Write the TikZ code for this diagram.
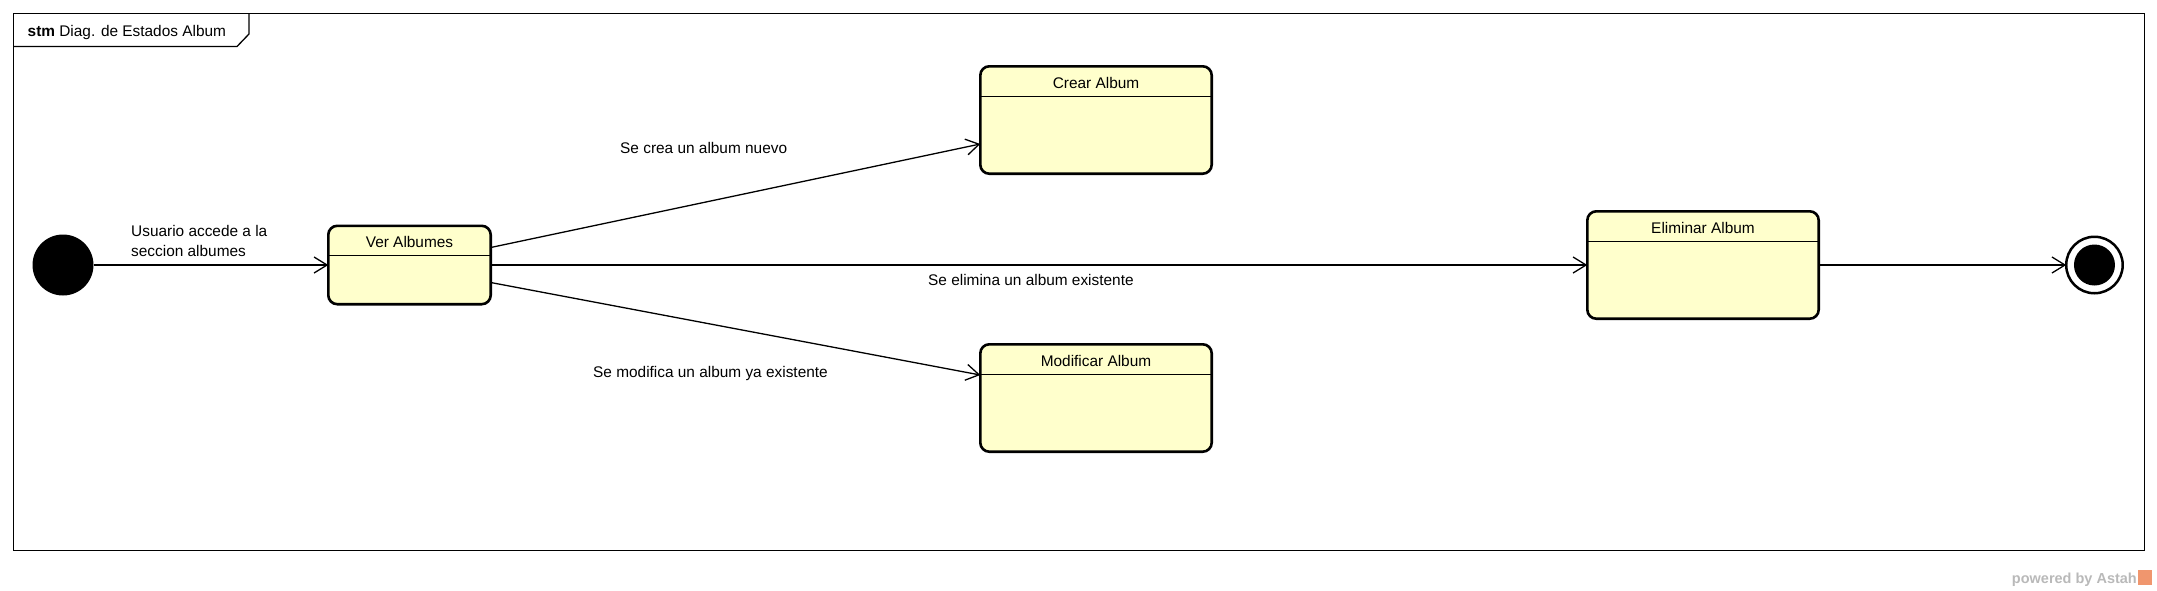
\documentclass[tikz,border=0pt]{standalone}
\usepackage{fontspec}
\setmainfont{Liberation Sans}
\usetikzlibrary{positioning,arrows.meta}
\definecolor{statefill}{RGB}{255,255,204}
\definecolor{astahgray}{RGB}{185,185,185}
\definecolor{astahorange}{RGB}{240,150,110}

\begin{document}
\begin{tikzpicture}[x=1pt, y=-1pt,
        font=\fontsize{15.4}{20}\selectfont,
        initialnode/.style={circle, fill=black, minimum size=61pt, inner sep=0pt, outer sep=0pt},
        finalnode/.style={circle, draw, line width=2.5pt, fill=white, minimum size=56.5pt, inner sep=0pt, outer sep=0pt,
            path picture={\fill[black] (path picture bounding box.center) circle (20.5pt);}},
        statenode/.style={rectangle, rounded corners=9pt, draw, line width=2.6pt, fill=statefill,
            minimum width=231.4pt, minimum height=107.4pt, inner sep=0pt, outer sep=0pt,
            label={[anchor=base, yshift=-22pt, inner sep=0pt]north:#1},
            path picture={\draw[line width=1.3pt] ([yshift=-30pt]path picture bounding box.north west) -- ([yshift=-30pt]path picture bounding box.north east);}},
        smallstate/.style={statenode=#1, minimum width=162.4pt, minimum height=78.4pt},
        edgelabel/.style={inner sep=0pt, anchor=base west},
        transition/.style={line width=1.3pt, -{Straight Barb[length=13pt, width=16pt, line width=1.3pt]}},
        framestyle/.style={line width=1.3pt},
        ]
        \useasboundingbox (0,0) rectangle (2157,590);

        %Frame
        \draw[framestyle] (13.5,13.5) rectangle (2144.5,550.5);
        \draw[framestyle] (13.5,46.5) -- (237,46.5) -- (249,34) -- (249,13.5);
        \node[inner sep=0pt, anchor=base west] (titulo) at (27.5,36.5) {\textbf{stm} Diag. de Estados Album};

        %Nodes
        \node[initialnode] (inicio) at (63,265) {};
        \node[smallstate=Ver Albumes] [right= 234.8pt of inicio] (ver) {};
        \node[statenode=Eliminar Album] [right= 1096.6pt of ver] (eliminar) {};
        \node[finalnode] [right= 247.5pt of eliminar] (fin) {};
        \node[statenode=Crear Album] (crear) at (1096,120) {};
        \node[statenode=Modificar Album] (modificar) at (1096,398) {};

        \node[inner sep=0pt, anchor=west, align=left] (lacceso) at (131,240.5) {Usuario accede a la\\seccion albumes};
        \node[edgelabel] (lcrear) at (620,153) {Se crea un album nuevo};
        \node[edgelabel] (leliminar) at (928,285) {Se elimina un album existente};
        \node[edgelabel] (lmodificar) at (593,377) {Se modifica un album ya existente};

        \node[inner sep=0pt, anchor=base east, text=astahgray, font=\fontsize{14.5}{17}\selectfont\bfseries] (astah) at (2137,583) {powered by Astah};
        \node[fill=astahorange, minimum width=14pt, minimum height=15pt, inner sep=0pt, anchor=south west] (logo) at (2138,585.5) {};

        \draw [transition] (inicio) -- (ver);
        \draw [transition] ([yshift=17.5pt]ver.east) -- ([yshift=-24pt]crear.west);
        \draw [transition] (ver.east) -- (eliminar.west);
        \draw [transition] ([yshift=-17.5pt]ver.east) -- ([yshift=23pt]modificar.west);
        \draw [transition] (eliminar) -- (fin);
        %Lines
    \end{tikzpicture}
\end{document}
